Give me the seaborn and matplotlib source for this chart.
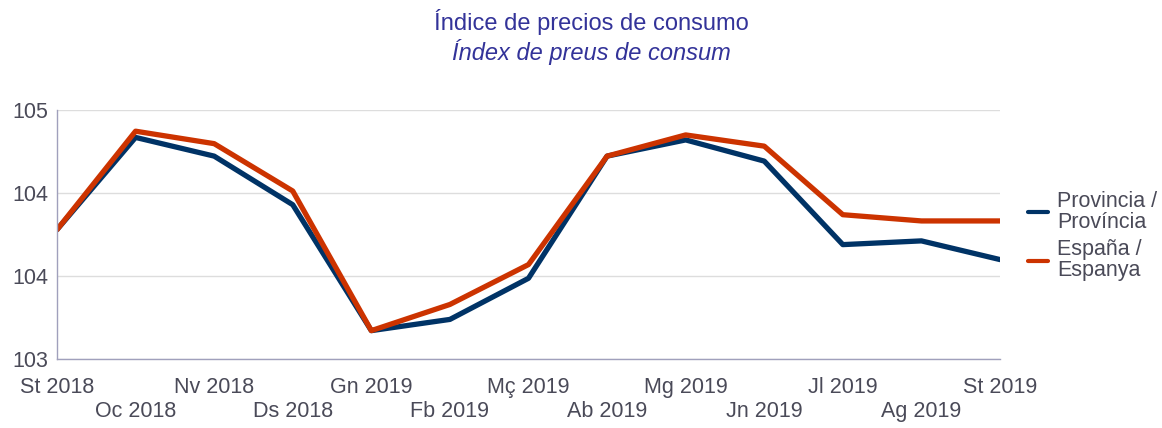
import pandas as pd
import matplotlib.pyplot as plt
import numpy as np
import seaborn as sns

# data
months = ["St 2018", "Oc 2018", "Nv 2018", "Ds 2018", "Gn 2019", "Fb 2019", "Mç 2019",
          "Ab 2019", "Mg 2019", "Jn 2019", "Jl 2019", "Ag 2019", "St 2019"]
provincia = [104.04, 104.78, 104.63, 104.24, 103.23, 103.32, 103.65,
             104.63, 104.76, 104.59, 103.92, 103.95, 103.80]
espana = [104.04, 104.83, 104.73, 104.35, 103.23, 103.44, 103.76,
          104.63, 104.80, 104.71, 104.16, 104.11, 104.11]
series_names = ["Provincia /\nProvíncia", "España /\nEspanya"]
y_ticks = [103, 103 + 2 / 3, 103 + 4 / 3, 105]

df = pd.DataFrame({"mes": list(range(len(months))) * 2,
                   "valor": provincia + espana,
                   "serie": [series_names[0]] * len(months) + [series_names[1]] * len(months)})

sns.set_style("white")
plt.rcParams['font.family'] = ['Liberation Sans', 'DejaVu Sans']

text_col = "#4a4a58"
fig = plt.figure(figsize=(11.62, 4.28), dpi=100)
ax = fig.add_axes([57 / 1162, 1 - 359.3 / 428, (1000 - 57) / 1162, (359.3 - 110) / 428])

sns.lineplot(data=df, x="mes", y="valor", hue="serie", ax=ax,
             palette=["#003366", "#CC3300"], linewidth=3.8, legend=True)

ax.set_xlim(0, len(months) - 1)
ax.set_ylim(103, 105)
ax.set_yticks(y_ticks)
ax.set_yticklabels([f"{v:.0f}" for v in y_ticks], fontsize=15.5, color=text_col)
ax.set_xticks(range(len(months)))
ax.set_xticklabels([m if i % 2 == 0 else "\n" + m for i, m in enumerate(months)],
                   fontsize=15.5, color=text_col, linespacing=1.15)
ax.tick_params(axis="x", length=0, pad=13)
ax.tick_params(axis="y", length=0, pad=6)
ax.set_xlabel("")
ax.set_ylabel("")
ax.grid(axis="y", color="#dddddd", linewidth=1)
for s in ["top", "right"]:
    ax.spines[s].set_visible(False)
for s in ["left", "bottom"]:
    ax.spines[s].set_color("#a0a0bc")
    ax.spines[s].set_linewidth(1)
ax.set_axisbelow(True)

leg = ax.legend(loc="center left", bbox_to_anchor=(1028 / 1162, 1 - 236 / 428),
                bbox_transform=fig.transFigure, frameon=False, borderpad=0, borderaxespad=0,
                fontsize=15.5, handlelength=0.93, handletextpad=0.42, labelspacing=0.3)
for t in leg.get_texts():
    t.set_color(text_col)
    t.set_linespacing(1.0)
for l in leg.get_lines():
    l.set_linewidth(3)

fig.text(591 / 1162, 1 - 22 / 428, "Índice de precios de consumo", ha="center", va="center",
         fontsize=17, color="#333399")
fig.text(591 / 1162, 1 - 52 / 428, "Índex de preus de consum", ha="center", va="center",
         fontsize=17, color="#333399", style="italic")

plt.savefig("out.png", dpi=100)
